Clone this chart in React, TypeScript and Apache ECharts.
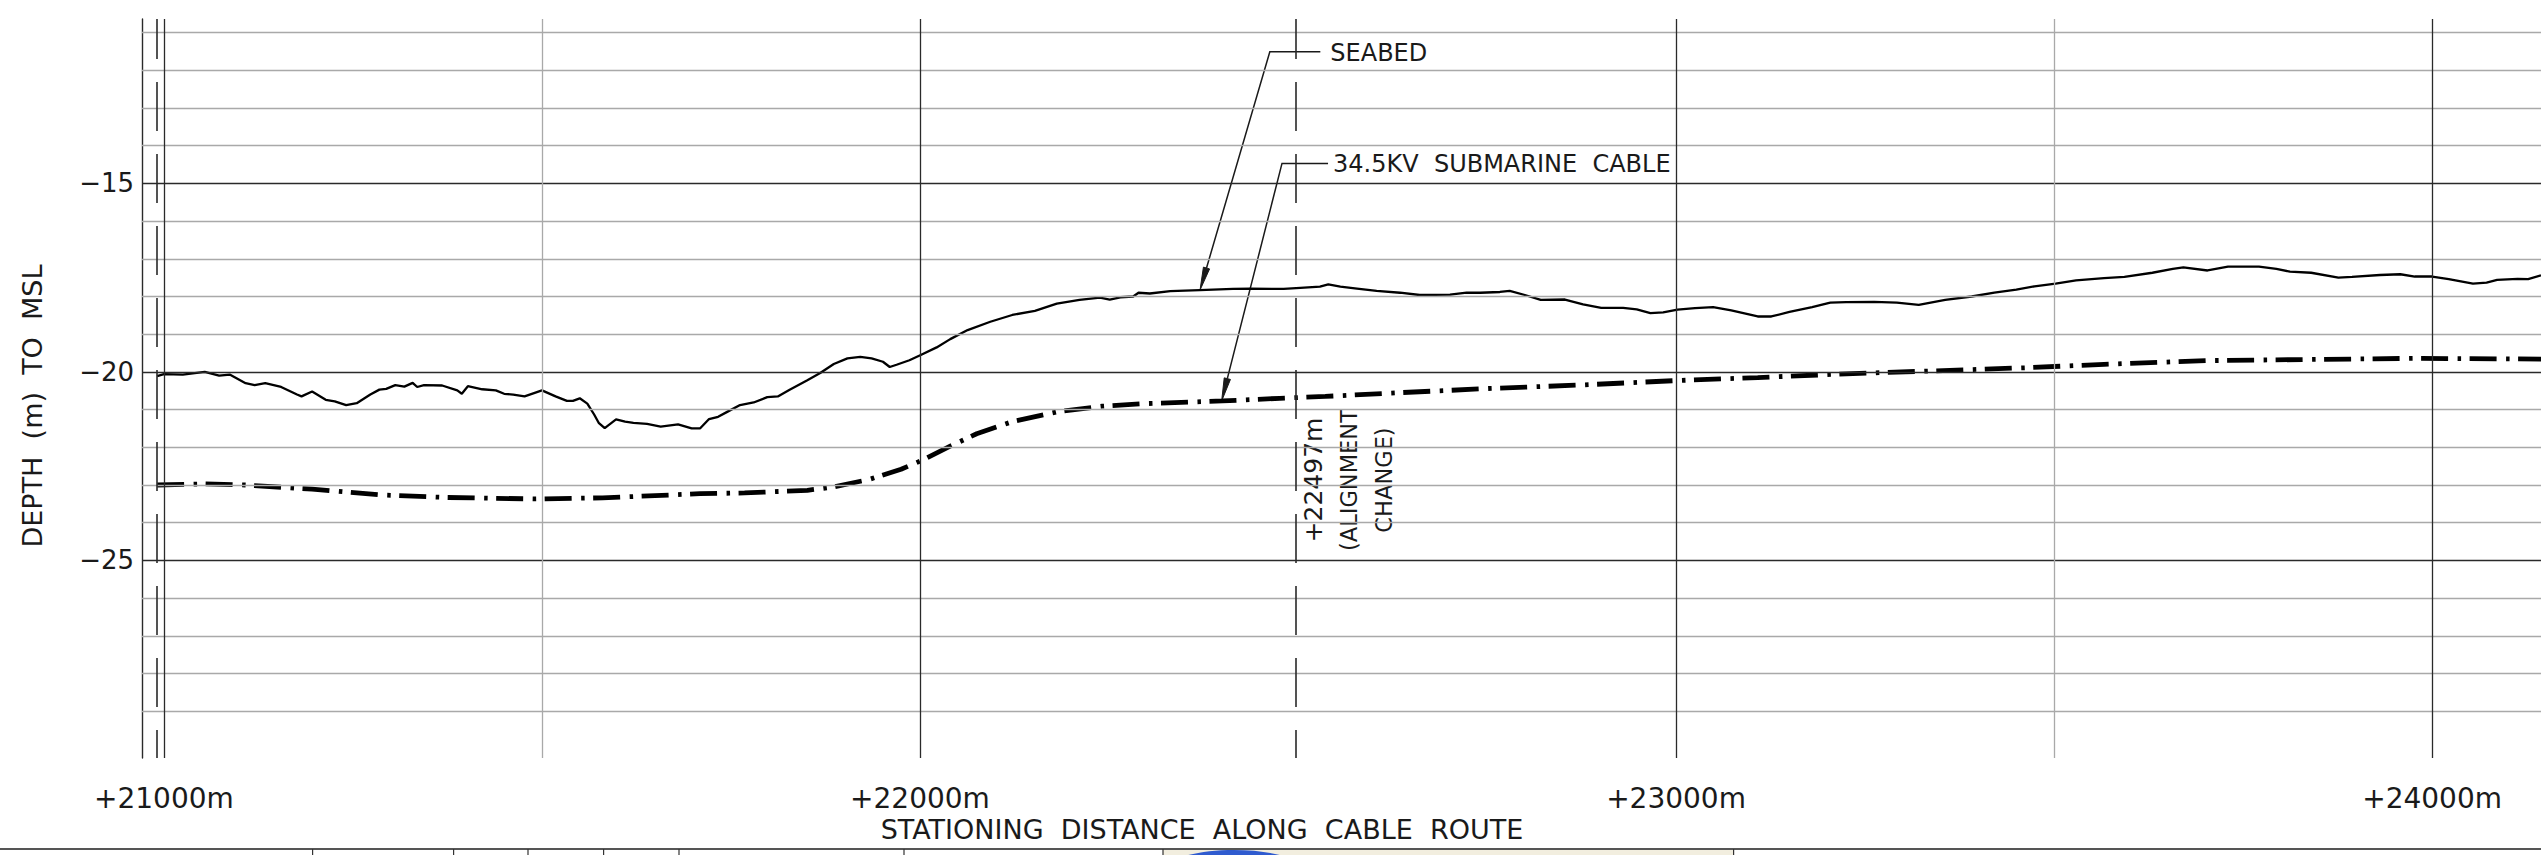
import React, { useEffect, useRef } from 'react';
import * as echarts from 'echarts';

// ---- axis ranges / ticks ----
const STATION_MIN = 20971;
const STATION_MAX = 24144;
const DEPTH_MIN = -30.24;
const DEPTH_MAX = -10.64;

const stationTicks = [21000, 22000, 23000, 24000];
const minorStations = [21500, 23500];
const dashedStations = [20991, 22497];
const depthTicks = [-15, -20, -25];
const depthGrid = [-11, -12, -13, -14, -15, -16, -17, -18, -19, -20, -21, -22, -23, -24, -25, -26, -27, -28, -29];

// ---- seabed profile ----
const seabedStations = [
  20991, 21000, 21025, 21054, 21073, 21087, 21108, 21120, 21134, 21155, 21176, 21182, 21196, 21214, 21226, 21241,
  21255, 21273, 21285, 21294, 21306, 21318, 21329, 21335, 21344, 21368, 21388, 21394, 21402, 21421, 21439, 21450,
  21462, 21477, 21500, 21518, 21533, 21541, 21550, 21560, 21569, 21575, 21583, 21598, 21610, 21621, 21639, 21657,
  21680, 21698, 21709, 21721, 21733, 21745, 21762, 21780, 21798, 21812, 21827, 21851, 21868, 21886, 21904, 21921,
  21936, 21951, 21960, 21969, 21986, 22001, 22022, 22040, 22063, 22093, 22122, 22152, 22181, 22211, 22238, 22251,
  22265, 22282, 22289, 22304, 22331, 22370, 22414, 22437, 22481, 22503, 22529, 22540, 22556, 22578, 22604, 22635,
  22661, 22701, 22723, 22741, 22767, 22780, 22800, 22821, 22853, 22877, 22901, 22930, 22948, 22966, 22983, 23002,
  23025, 23049, 23073, 23108, 23126, 23150, 23180, 23204, 23225, 23262, 23292, 23321, 23356, 23391, 23421, 23450,
  23474, 23502, 23529, 23566, 23593, 23630, 23657, 23671, 23703, 23730, 23771, 23794, 23812, 23840, 23876, 23894,
  23931, 23958, 23977, 24000, 24022, 24054, 24072, 24086, 24113, 24127, 24144,
];
const seabedDepths = [
  -20.11, -20.06, -20.07, -20.0, -20.1, -20.07, -20.3, -20.35, -20.3, -20.4, -20.6, -20.65, -20.52, -20.74, -20.78, -20.88,
  -20.83, -20.6, -20.47, -20.45, -20.35, -20.39, -20.29, -20.4, -20.35, -20.36, -20.49, -20.58, -20.38, -20.46, -20.49, -20.58,
  -20.6, -20.65, -20.49, -20.65, -20.77, -20.77, -20.7, -20.84, -21.13, -21.35, -21.49, -21.26, -21.32, -21.35, -21.38, -21.45,
  -21.39, -21.5, -21.5, -21.25, -21.19, -21.06, -20.88, -20.81, -20.67, -20.65, -20.48, -20.22, -20.03, -19.79, -19.64, -19.6,
  -19.64, -19.73, -19.87, -19.81, -19.69, -19.55, -19.35, -19.13, -18.89, -18.67, -18.49, -18.38, -18.19, -18.09, -18.03, -18.08,
  -18.02, -18.0, -17.9, -17.92, -17.86, -17.83, -17.8, -17.79, -17.8, -17.77, -17.74, -17.68, -17.74, -17.79, -17.85, -17.9,
  -17.96, -17.95, -17.9, -17.9, -17.88, -17.85, -17.96, -18.09, -18.08, -18.21, -18.3, -18.3, -18.34, -18.44, -18.42, -18.35,
  -18.31, -18.28, -18.37, -18.53, -18.53, -18.41, -18.28, -18.16, -18.15, -18.14, -18.16, -18.22, -18.09, -18.0, -17.9, -17.82,
  -17.73, -17.66, -17.57, -17.51, -17.48, -17.37, -17.27, -17.23, -17.31, -17.21, -17.21, -17.27, -17.34, -17.37, -17.5, -17.48,
  -17.43, -17.41, -17.47, -17.47, -17.54, -17.66, -17.63, -17.56, -17.53, -17.54, -17.44,
];

// ---- 34.5kV cable profile ----
const cableStations = [
  20991, 21054, 21108, 21196, 21285, 21373, 21491, 21580, 21709, 21768, 21851, 21886, 21933, 21975, 22001, 22040,
  22075, 22122, 22181, 22241, 22299, 22359, 22400, 22476, 22536, 22635, 22752, 22871, 23000, 23108, 23225, 23344,
  23462, 23566, 23703, 23840, 23977, 24144,
];
const cableDepths = [
  -23.0, -22.97, -23.0, -23.11, -23.26, -23.33, -23.37, -23.34, -23.23, -23.21, -23.14, -23.05, -22.85, -22.58, -22.36, -21.97,
  -21.64, -21.32, -21.06, -20.91, -20.84, -20.8, -20.77, -20.7, -20.65, -20.55, -20.44, -20.35, -20.23, -20.15, -20.05, -19.97,
  -19.89, -19.8, -19.7, -19.67, -19.64, -19.66,
];

// ---- annotations (data coordinates) ----
const seabedLeader = { vertex: [22462.7, -11.51], end: [22529.5, -11.51], tip: [22370.4, -17.83] };
const cableLeader = { vertex: [22478.8, -14.47], end: [22539.7, -14.47], tip: [22399, -20.77] };
const seabedLabel = 'SEABED';
const cableLabel = '34.5KV  SUBMARINE  CABLE';
const alignmentLabels = ['+22497m', '(ALIGNMENT', 'CHANGE)'];
const alignmentFontSizes = [25, 22.5, 22.5];
const yTitle = 'DEPTH  (m)  TO  MSL';
const xTitle = 'STATIONING  DISTANCE  ALONG  CABLE  ROUTE';

const FONT = 'DejaVu Sans';
const INK = '#1a1a1a';
const MAJOR = '#2a2a2a';
const MINOR = '#a9a9a9';

export default function App() {
  const ref = useRef<HTMLDivElement>(null);

  useEffect(() => {
    if (!ref.current) return;
    const chart = echarts.init(ref.current, null, { renderer: 'svg' });

    const gridLines: any[] = [
      ...depthGrid.map((d) => ({
        yAxis: d,
        lineStyle: { color: depthTicks.includes(d) ? MAJOR : MINOR, width: 1.3, type: 'solid' },
      })),
      ...minorStations.map((s) => ({ xAxis: s, lineStyle: { color: MINOR, width: 1.3, type: 'solid' } })),
      ...stationTicks.map((s) => ({ xAxis: s, lineStyle: { color: MAJOR, width: 1.3, type: 'solid' } })),
      ...dashedStations.map((s) => ({
        xAxis: s,
        lineStyle: { color: MAJOR, width: 1.6, type: [49, 23], dashOffset: 21 },
      })),
    ];

    chart.setOption({
      animation: false,
      backgroundColor: '#ffffff',
      grid: { left: 142, top: 19, width: 2399, height: 739, outerBoundsMode: 'none', containLabel: false },
      xAxis: {
        type: 'value',
        min: STATION_MIN,
        max: STATION_MAX,
        axisLine: { show: false },
        axisTick: { show: false },
        splitLine: { show: false },
        axisLabel: {
          customValues: stationTicks,
          formatter: (v: number) => `+${v}m`,
          fontFamily: FONT,
          fontSize: 28,
          color: INK,
          margin: 26,
        },
      },
      yAxis: {
        type: 'value',
        min: DEPTH_MIN,
        max: DEPTH_MAX,
        axisLine: { show: true, lineStyle: { color: MAJOR, width: 1.4 } },
        axisTick: { show: false },
        splitLine: { show: false },
        axisLabel: {
          customValues: depthTicks,
          formatter: (v: number) => `\u2212${Math.abs(v)}`,
          fontFamily: FONT,
          fontSize: 26,
          color: INK,
          margin: 8,
        },
      },
      series: [
        {
          type: 'line',
          data: [],
          silent: true,
          markLine: {
            silent: true,
            animation: false,
            symbol: ['none', 'none'],
            label: { show: false },
            emphasis: { disabled: true },
            lineStyle: { type: 'solid' },
            data: gridLines,
          },
        },
        {
          name: 'Seabed',
          type: 'line',
          data: seabedStations.map((s, i) => [s, seabedDepths[i]]),
          showSymbol: false,
          silent: true,
          lineStyle: { color: '#000', width: 2.3 },
          z: 3,
        },
        {
          name: '34.5KV Submarine Cable',
          type: 'line',
          data: cableStations.map((s, i) => [s, cableDepths[i]]),
          showSymbol: false,
          silent: true,
          lineStyle: { color: '#000', width: 4.8, type: [27, 9.5, 3.5, 8.5], cap: 'butt' },
          z: 4,
        },
      ],
    });

    const px = (p: number[]) => chart.convertToPixel({ gridIndex: 0 }, p) as number[];

    const leader = (l: { vertex: number[]; end: number[]; tip: number[] }) => {
      const V = px(l.vertex);
      const H = px(l.end);
      const T = px(l.tip);
      const dx = T[0] - V[0];
      const dy = T[1] - V[1];
      const len = Math.hypot(dx, dy);
      const ux = dx / len;
      const uy = dy / len;
      const L = 23;
      const W = 3.2;
      const base = [T[0] - ux * L, T[1] - uy * L];
      const nx = -uy;
      const ny = ux;
      return [
        { type: 'polyline', silent: true, shape: { points: [H, V, base] }, style: { stroke: INK, lineWidth: 1.5, fill: null } },
        {
          type: 'polygon',
          silent: true,
          shape: { points: [T, [base[0] + nx * W, base[1] + ny * W], [base[0] - nx * W, base[1] - ny * W]] },
          style: { fill: INK, stroke: INK, lineWidth: 1 },
        },
      ];
    };

    const sbEnd = px(seabedLeader.end);
    const cbEnd = px(cableLeader.end);
    const alignX = px([dashedStations[1], -21])[0];
    const alignY = 480;

    const graphic: any[] = [
      ...leader(seabedLeader),
      ...leader(cableLeader),
      {
        type: 'text', silent: true, x: sbEnd[0] + 10, y: sbEnd[1] + 1,
        style: { text: seabedLabel, fontFamily: FONT, fontSize: 24, fill: INK, align: 'left', verticalAlign: 'middle' },
      },
      {
        type: 'text', silent: true, x: cbEnd[0] + 5, y: cbEnd[1] + 1,
        style: { text: cableLabel, fontFamily: FONT, fontSize: 24, fill: INK, align: 'left', verticalAlign: 'middle' },
      },
      ...alignmentLabels.map((t, i) => ({
        type: 'text', silent: true, x: alignX + 18 + i * 35, y: alignY, rotation: Math.PI / 2,
        style: { text: t, fontFamily: FONT, fontSize: alignmentFontSizes[i], fill: INK, align: 'center', verticalAlign: 'middle' },
      })),
      {
        type: 'text', silent: true, x: 32, y: 406, rotation: Math.PI / 2,
        style: { text: yTitle, fontFamily: FONT, fontSize: 27, fill: INK, align: 'center', verticalAlign: 'middle' },
      },
      {
        type: 'text', silent: true, x: 1202, y: 829,
        style: { text: xTitle, fontFamily: FONT, fontSize: 27, fill: INK, align: 'center', verticalAlign: 'middle' },
      },
      // title-block strip at the bottom
      { type: 'rect', silent: true, shape: { x: 1163, y: 850, width: 571, height: 6 }, style: { fill: '#f2eedf' } },
      { type: 'ellipse', silent: true, shape: { cx: 1234, cy: 872, rx: 72, ry: 22 }, style: { fill: '#2f5bcf' } },
      { type: 'line', silent: true, shape: { x1: 0, y1: 849, x2: 2541, y2: 849 }, style: { stroke: '#555', lineWidth: 2 } },
      ...[312.6, 453.6, 528, 603.6, 679, 904, 1163, 1733.6].map((x) => ({
        type: 'line', silent: true, shape: { x1: x, y1: 849, x2: x, y2: 856 }, style: { stroke: '#333', lineWidth: 1.2 },
      })),
    ];

    chart.setOption({ graphic });

    return () => chart.dispose();
  }, []);

  return <div ref={ref} style={{ position: 'absolute', left: 0, top: 0, width: 2541, height: 855 }} />;
}
